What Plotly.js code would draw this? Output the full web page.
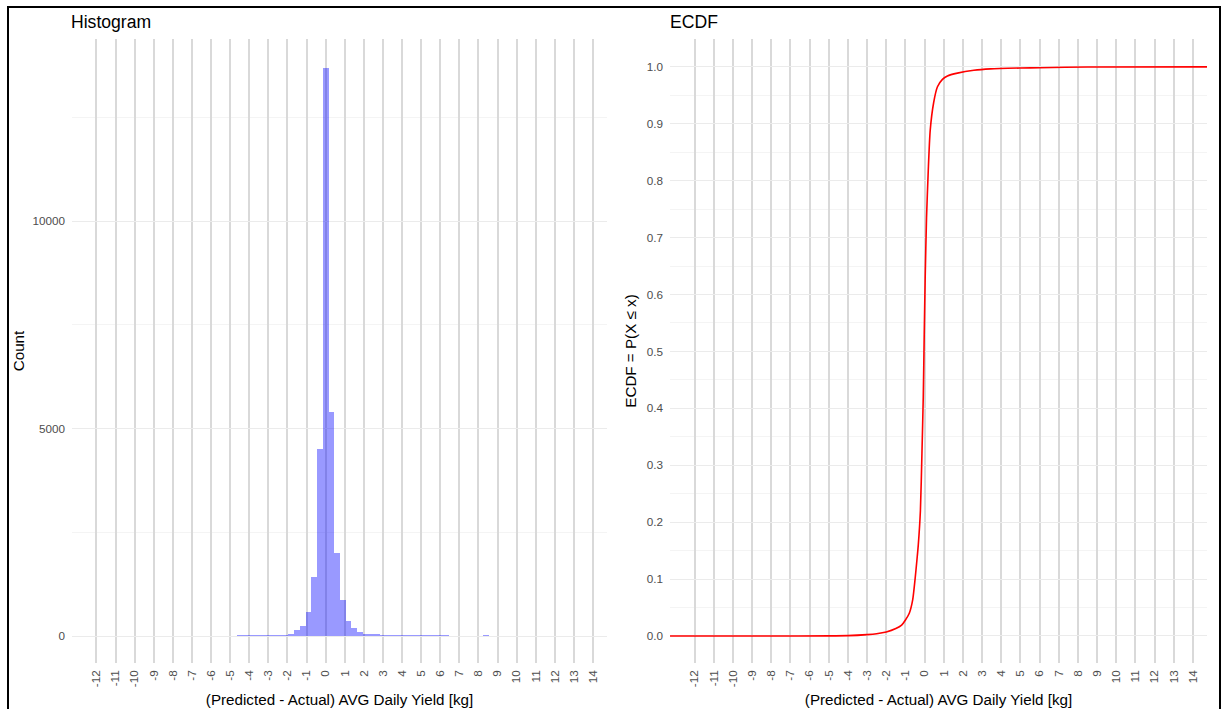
<!DOCTYPE html>
<html>
<head>
<meta charset="utf-8">
<script src="https://cdn.plot.ly/plotly-3.0.1.min.js"></script>
<style>
  html, body { margin: 0; padding: 0; background: #ffffff; }
  #chart { width: 1227px; height: 709px; }
  #frame { position: absolute; left: 7px; top: 6px; width: 1210px; height: 720px;
           border: 2px solid #000; pointer-events: none; }
</style>
</head>
<body>
<div id="chart"></div>
<div id="frame"></div>
<script>
// ---- Data ----
// Histogram: bin centres (bin width 0.3 kg) and counts
const binCenters = [-4.5, -4.2, -3.9, -3.6, -3.3, -3.0, -2.7, -2.4, -2.1, -1.8, -1.5, -1.2, -0.9, -0.6, -0.3,
                    0.0, 0.3, 0.6, 0.9, 1.2, 1.5, 1.8, 2.1, 2.4, 2.7, 3.0, 3.3, 3.6, 3.9, 4.2, 4.5, 4.8,
                    5.1, 5.4, 5.7, 6.0, 6.3, 8.4];
const binCounts  = [14, 14, 14, 14, 15, 16, 18, 30, 35, 50, 140, 240, 570, 1430, 4500,
                    13700, 5390, 2000, 880, 360, 190, 95, 60, 40, 40, 25, 22, 14, 14, 14, 14, 14,
                    14, 14, 14, 14, 30, 30];
const binWidth = 0.3;

// ECDF of the residuals
const ecdfX = [-13.28, -8, -5, -4, -3, -2.5, -2, -1.5, -1.2, -1.0, -0.8, -0.62, -0.5, -0.4, -0.33,
               -0.22, -0.14, -0.07, -0.02, 0.03, 0.10, 0.19, 0.29, 0.47, 0.67, 0.93, 1.19, 1.71,
               2.57, 3.43, 4.98, 6.0, 8.5, 14.73];
const ecdfY = [0, 0, 0.0002, 0.0006, 0.0024, 0.004, 0.007, 0.013, 0.019, 0.028, 0.04, 0.064, 0.099, 0.134, 0.16,
               0.22, 0.32, 0.42, 0.53, 0.63, 0.735, 0.818, 0.888, 0.937, 0.965, 0.978, 0.984, 0.989,
               0.994, 0.9965, 0.998, 0.9986, 0.9999, 1.0];

// Axis ticks
const xTicks = [-12, -11, -10, -9, -8, -7, -6, -5, -4, -3, -2, -1, 0, 1, 2, 3, 4, 5, 6, 7, 8, 9, 10, 11, 12, 13, 14];
const xTickLabels = xTicks.map(String);
const histYTicks = [0, 5000, 10000];
const histYMinor = [2500, 7500, 12500];
const ecdfYTicks = [0, 0.1, 0.2, 0.3, 0.4, 0.5, 0.6, 0.7, 0.8, 0.9, 1.0];
const ecdfYTickLabels = ecdfYTicks.map(v => v.toFixed(1));
const ecdfYMinor = [0.05, 0.15, 0.25, 0.35, 0.45, 0.55, 0.65, 0.75, 0.85, 0.95];

const xTitle = '(Predicted - Actual) AVG Daily Yield [kg]';
const FONT = 'Liberation Sans, Arial, Helvetica, sans-serif';
const XRANGE = [-13.28, 14.73];
const HIST_YRANGE = [-650, 14390];
const ECDF_YRANGE = [-0.0475, 1.049];

const tickFont = { family: FONT, size: 11.7, color: '#4d4d4d' };
const titleFont = { family: FONT, size: 15.2, color: '#000000' };

function xAxis(domain) {
  return {
    domain: domain, range: XRANGE, tickmode: 'array', tickvals: xTicks, ticktext: xTickLabels,
    tickangle: -90, tickfont: tickFont, ticks: '', showline: false, zeroline: false,
    showgrid: true, gridcolor: '#d9d9d9', gridwidth: 2, ticklabelstandoff: 4,
    title: { text: xTitle, font: titleFont, standoff: 8 }, automargin: false, fixedrange: true
  };
}

const traces = [
  {
    type: 'bar', x: binCenters, y: binCounts, width: binWidth,
    marker: { color: 'rgba(0,0,255,0.4)', line: { width: 0 } },
    xaxis: 'x', yaxis: 'y', showlegend: false, hoverinfo: 'x+y'
  },
  {
    type: 'scatter', mode: 'lines', x: ecdfX, y: ecdfY,
    line: { color: '#ff0000', width: 1.6, shape: 'spline', smoothing: 0.6 },
    xaxis: 'x2', yaxis: 'y2', showlegend: false
  }
];

const layout = {
  width: 1227, height: 709,
  margin: { l: 72, r: 20, t: 39, b: 46 },
  paper_bgcolor: '#ffffff', plot_bgcolor: '#ffffff',
  font: { family: FONT },
  bargap: 0,
  xaxis: xAxis([0, 0.4714]),
  yaxis: {
    domain: [0, 1], range: HIST_YRANGE,
    tickmode: 'array', tickvals: histYTicks, ticktext: histYTicks.map(String),
    tickfont: tickFont, ticks: '', showline: false, zeroline: false,
    showgrid: true, gridcolor: '#ebebeb', gridwidth: 1, ticklabelstandoff: 6,
    minor: { tickvals: histYMinor, showgrid: true, gridcolor: '#f4f4f4', gridwidth: 1 },
    title: { text: 'Count', font: titleFont, standoff: 4 }, automargin: false
  },
  xaxis2: Object.assign(xAxis([0.5269, 1.0]), { anchor: 'y2' }),
  yaxis2: {
    domain: [0, 1], range: ECDF_YRANGE, anchor: 'x2',
    tickmode: 'array', tickvals: ecdfYTicks, ticktext: ecdfYTickLabels,
    tickfont: tickFont, ticks: '', showline: false, zeroline: false,
    showgrid: true, gridcolor: '#ebebeb', gridwidth: 1, ticklabelstandoff: 6,
    minor: { tickvals: ecdfYMinor, showgrid: true, gridcolor: '#f4f4f4', gridwidth: 1 },
    title: { text: 'ECDF = P(X ≤ x)', font: titleFont, standoff: 6 }, automargin: false
  },
  annotations: [
    { text: 'Histogram', xref: 'x domain', yref: 'y domain', x: 0, y: 1, xanchor: 'left', yanchor: 'bottom',
      xshift: -3, yshift: 5, showarrow: false, font: { family: FONT, size: 17.6, color: '#000000' } },
    { text: 'ECDF', xref: 'x2 domain', yref: 'y2 domain', x: 0, y: 1, xanchor: 'left', yanchor: 'bottom',
      xshift: -2, yshift: 5, showarrow: false, font: { family: FONT, size: 17.6, color: '#000000' } }
  ]
};

Plotly.newPlot('chart', traces, layout, { displayModeBar: false, staticPlot: true });
</script>
</body>
</html>
